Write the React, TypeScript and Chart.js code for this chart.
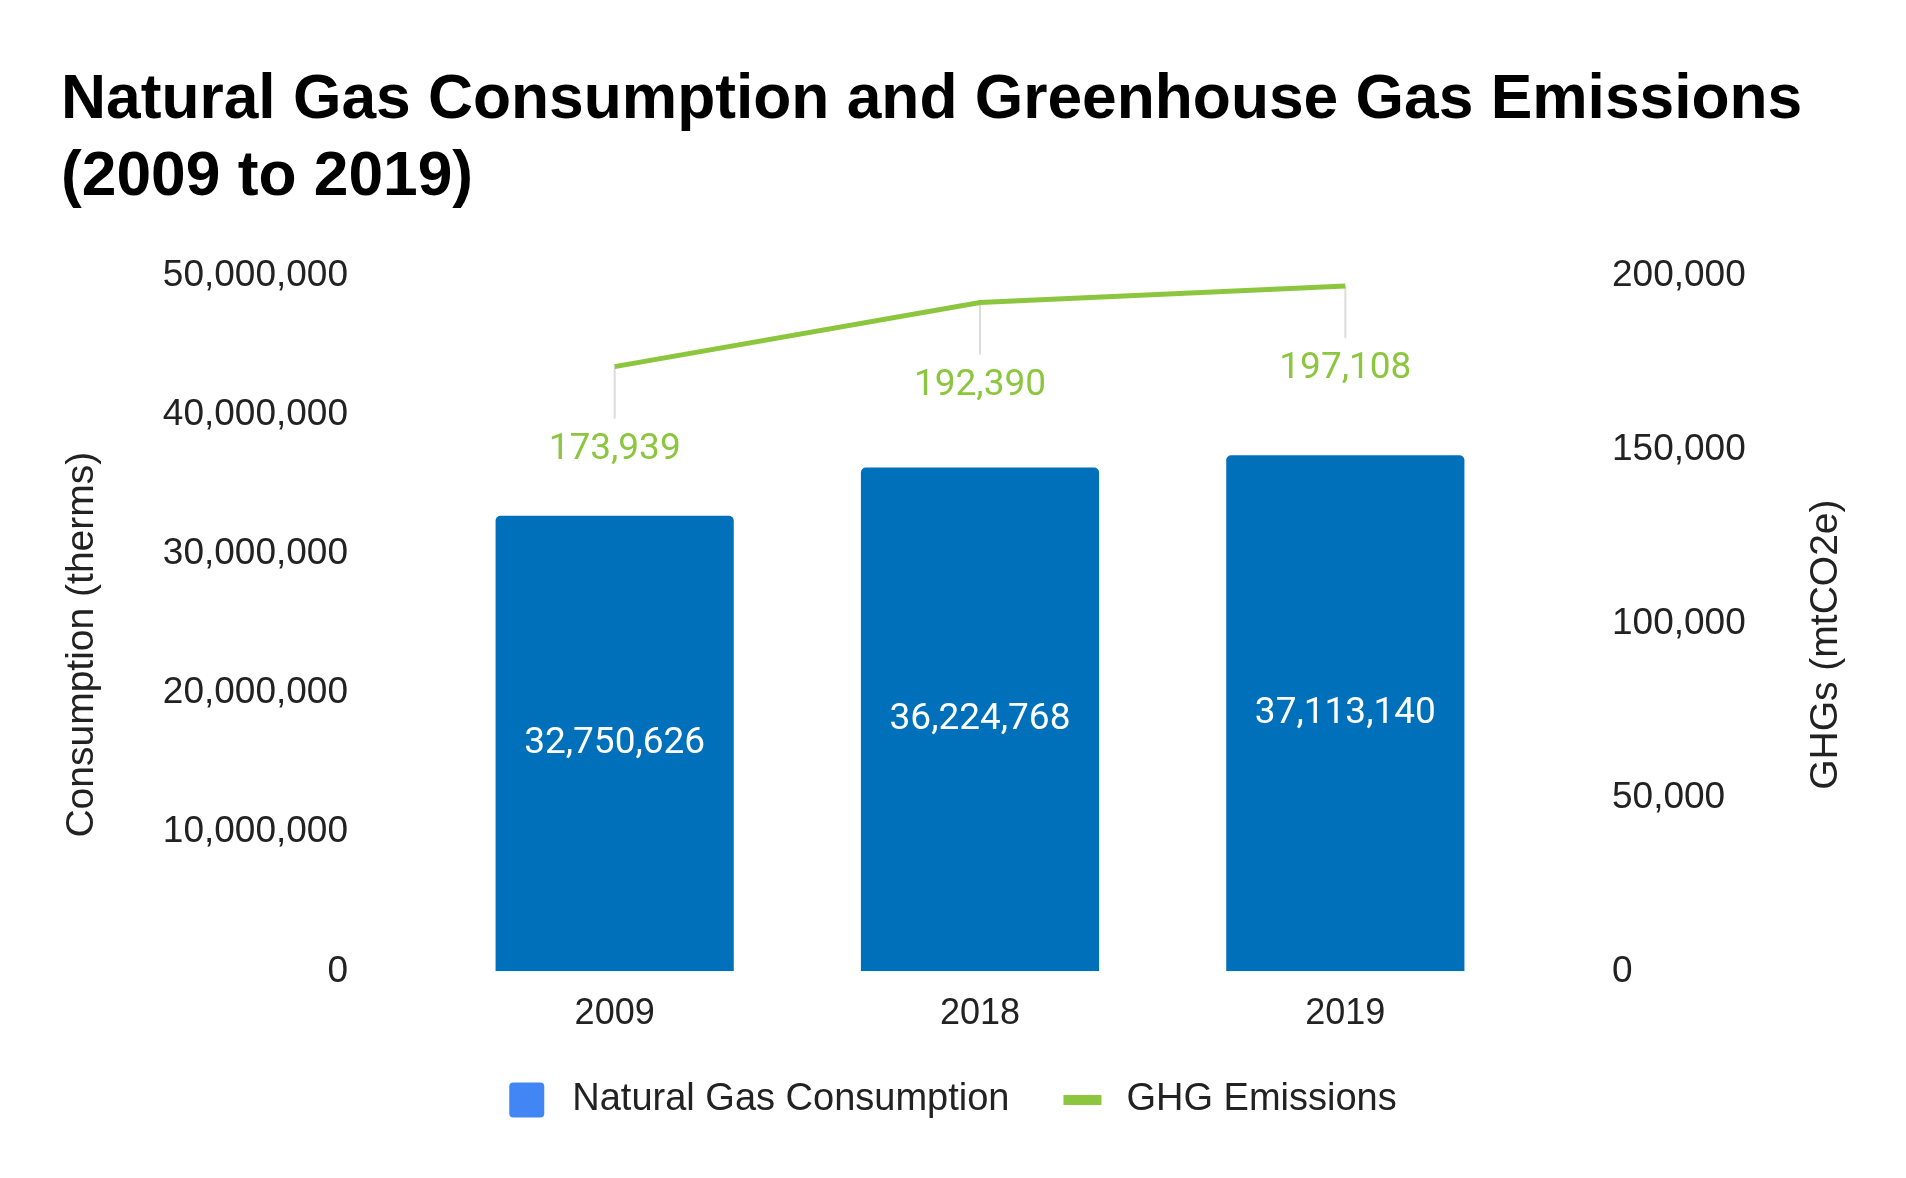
import React, { useEffect, useRef } from 'react';
import { Chart, registerables } from 'chart.js';

Chart.register(...registerables);

// Chart data
const years = ['2009', '2018', '2019'];
const consumption = [32750626, 36224768, 37113140];
const emissions = [173939, 192390, 197108];
const consumptionTicks = [0, 10000000, 20000000, 30000000, 40000000, 50000000];
const emissionTicks = [0, 50000, 100000, 150000, 200000];

const titleLines = ['Natural Gas Consumption and Greenhouse Gas Emissions', '(2009 to 2019)'];
const leftAxisTitle = 'Consumption (therms)';
const rightAxisTitle = 'GHGs (mtCO2e)';

const SANS = '"Liberation Sans", Arial, Helvetica, sans-serif';
const ROBOTO = 'Roboto, "Noto Sans", sans-serif';

const BAR_COLOR = '#0070ba';
const LEGEND_BAR_COLOR = '#4285f4';
const LINE_COLOR = '#8cc63f';
const TEXT_COLOR = '#222222';

const fmt = (v: number) => v.toLocaleString('en-US');

const W = 1906;
const H = 1178;

function roundRect(ctx: CanvasRenderingContext2D, x: number, y: number, w: number, h: number, r: number) {
  ctx.beginPath();
  ctx.moveTo(x + r, y);
  ctx.lineTo(x + w - r, y);
  ctx.quadraticCurveTo(x + w, y, x + w, y + r);
  ctx.lineTo(x + w, y + h - r);
  ctx.quadraticCurveTo(x + w, y + h, x + w - r, y + h);
  ctx.lineTo(x + r, y + h);
  ctx.quadraticCurveTo(x, y + h, x, y + h - r);
  ctx.lineTo(x, y + r);
  ctx.quadraticCurveTo(x, y, x + r, y);
  ctx.closePath();
}

// Value labels, leader lines, axis titles and legend
const annotations = {
  id: 'annotations',
  beforeDatasetsDraw(chart: any) {
    const ctx: CanvasRenderingContext2D = chart.ctx;
    const meta = chart.getDatasetMeta(1);
    ctx.save();
    ctx.strokeStyle = '#dcdcdc';
    ctx.lineWidth = 2;
    meta.data.forEach((p: any) => {
      ctx.beginPath();
      ctx.moveTo(p.x, p.y);
      ctx.lineTo(p.x, p.y + 52);
      ctx.stroke();
    });
    ctx.restore();
  },
  afterDatasetsDraw(chart: any) {
    const ctx: CanvasRenderingContext2D = chart.ctx;
    ctx.save();
    ctx.textAlign = 'center';
    ctx.textBaseline = 'middle';
    ctx.font = `37px ${ROBOTO}`;

    const bars = chart.getDatasetMeta(0);
    ctx.fillStyle = '#ffffff';
    bars.data.forEach((b: any, i: number) => {
      const v = chart.data.datasets[0].data[i] as number;
      ctx.fillText(fmt(v), b.x, (b.y + b.base) / 2);
    });

    const pts = chart.getDatasetMeta(1);
    ctx.fillStyle = LINE_COLOR;
    pts.data.forEach((p: any, i: number) => {
      const v = chart.data.datasets[1].data[i] as number;
      ctx.fillText(fmt(v), p.x, p.y + 83);
    });
    ctx.restore();
  },
  afterDraw(chart: any) {
    const ctx: CanvasRenderingContext2D = chart.ctx;
    const area = chart.chartArea;
    const midY = (area.top + area.bottom) / 2 + 21;

    // axis titles, both reading bottom to top
    ctx.save();
    ctx.fillStyle = TEXT_COLOR;
    ctx.font = `39px ${SANS}`;
    ctx.textAlign = 'center';
    ctx.textBaseline = 'middle';
    ctx.translate(chart.scales.y.left + 21, midY);
    ctx.rotate(-Math.PI / 2);
    ctx.fillText(leftAxisTitle, 0, 0);
    ctx.restore();

    ctx.save();
    ctx.fillStyle = TEXT_COLOR;
    ctx.font = `39px ${SANS}`;
    ctx.textAlign = 'center';
    ctx.textBaseline = 'middle';
    ctx.translate(chart.scales.y1.right - 60, midY);
    ctx.rotate(-Math.PI / 2);
    ctx.fillText(rightAxisTitle, 0, 0);
    ctx.restore();

    // legend
    ctx.save();
    ctx.font = `38px ${SANS}`;
    ctx.textBaseline = 'middle';
    ctx.textAlign = 'left';
    const l1 = chart.data.datasets[0].label as string;
    const l2 = chart.data.datasets[1].label as string;
    const w1 = 35 + 28 + ctx.measureText(l1).width;
    const w2 = 38 + 25 + ctx.measureText(l2).width;
    const total = w1 + 54 + w2;
    let x = (chart.width - total) / 2;
    const cy = chart.height - 78;
    ctx.fillStyle = LEGEND_BAR_COLOR;
    roundRect(ctx, x, cy - 17.5, 35, 35, 4);
    ctx.fill();
    ctx.fillStyle = TEXT_COLOR;
    ctx.fillText(l1, x + 63, cy);
    x += w1 + 54;
    ctx.fillStyle = LINE_COLOR;
    ctx.fillRect(x, cy - 5, 38, 10);
    ctx.fillStyle = TEXT_COLOR;
    ctx.fillText(l2, x + 63, cy);
    ctx.restore();
  },
};

export default function App() {
  const canvasRef = useRef<HTMLCanvasElement | null>(null);

  useEffect(() => {
    if (!canvasRef.current) return;
    const chart = new Chart(canvasRef.current, {
      type: 'bar',
      data: {
        labels: years,
        datasets: [
          {
            type: 'bar',
            label: 'Natural Gas Consumption',
            data: consumption,
            backgroundColor: BAR_COLOR,
            borderRadius: { topLeft: 5, topRight: 5, bottomLeft: 0, bottomRight: 0 },
            borderSkipped: false,
            categoryPercentage: 1,
            barPercentage: 0.652,
            yAxisID: 'y',
          },
          {
            type: 'line',
            label: 'GHG Emissions',
            data: emissions,
            borderColor: LINE_COLOR,
            backgroundColor: LINE_COLOR,
            borderWidth: 5,
            pointRadius: 0,
            tension: 0,
            yAxisID: 'y1',
          },
        ],
      } as any,
      options: {
        responsive: false,
        animation: false,
        devicePixelRatio: 1,
        layout: { padding: { left: 61, right: 20, top: 0, bottom: 120.5 } },
        plugins: {
          legend: { display: false },
          tooltip: { enabled: false },
          title: {
            display: true,
            text: titleLines,
            align: 'start',
            color: '#000000',
            font: { family: SANS, size: 62.3, weight: 'bold', lineHeight: 77 / 62.3 },
            padding: { top: 62, bottom: 60 },
          },
        },
        scales: {
          x: {
            grid: { display: false, drawTicks: false },
            border: { display: false },
            ticks: { color: TEXT_COLOR, font: { family: SANS, size: 36 }, padding: 21.5 },
          },
          y: {
            position: 'left',
            min: consumptionTicks[0],
            max: consumptionTicks[consumptionTicks.length - 1],
            afterBuildTicks: (s: any) => {
              s.ticks = consumptionTicks.map((v) => ({ value: v }));
            },
            afterFit: (s: any) => {
              s.width = 371;
            },
            grid: { display: false, drawTicks: false },
            border: { display: false },
            ticks: {
              color: TEXT_COLOR,
              font: { family: SANS, size: 37 },
              padding: 84,
              callback: (v: any) => fmt(Number(v)),
            },
          },
          y1: {
            position: 'right',
            min: emissionTicks[0],
            max: emissionTicks[emissionTicks.length - 1],
            afterBuildTicks: (s: any) => {
              s.ticks = emissionTicks.map((v) => ({ value: v }));
            },
            afterFit: (s: any) => {
              s.width = 358;
            },
            grid: { display: false, drawTicks: false },
            border: { display: false },
            ticks: {
              color: TEXT_COLOR,
              font: { family: SANS, size: 37 },
              padding: 84,
              callback: (v: any) => fmt(Number(v)),
            },
          },
        },
      } as any,
      plugins: [annotations],
    });
    return () => chart.destroy();
  }, []);

  return (
    <div style={{ position: 'fixed', left: 0, top: 0, width: W, height: H, background: '#ffffff' }}>
      <canvas ref={canvasRef} width={W} height={H} style={{ display: 'block' }} />
    </div>
  );
}
